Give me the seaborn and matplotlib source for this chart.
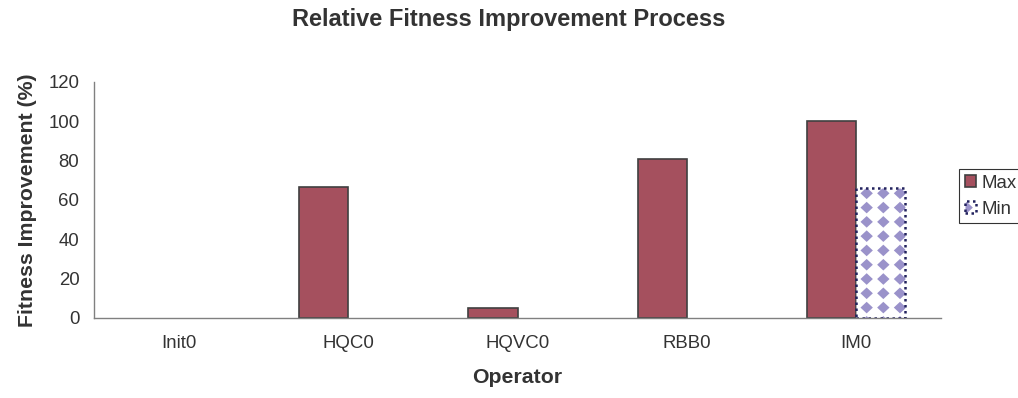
import numpy as np
import pandas as pd
import matplotlib
matplotlib.use("Agg")
import matplotlib.pyplot as plt
import matplotlib.hatch as mhatch
from matplotlib.path import Path
from matplotlib.patches import Patch
from matplotlib.colors import to_rgba
import seaborn as sns

# ---- data ----
operators = ["Init0", "HQC0", "HQVC0", "RBB0", "IM0"]
max_values = [0, 66.5, 5, 81, 100]
min_values = [0, 0, 0, 0, 66]
series = ["Max", "Min"]
yticks = [0, 20, 40, 60, 80, 100, 120]

MAX_COLOR = "#A5505E"
MAX_EDGE = "#404040"
MIN_DOT = "#9A92CA"
MIN_EDGE = "#23235E"
TEXT = "#333333"


# ---- custom aligned-diamond hatch (replaces the '*' star hatch) ----
class Diamonds(mhatch.HatchPatternBase):
    NX, NY = 6, 7

    def __init__(self, hatch, density):
        self.on = hatch.count('*') > 0
        cnt = (self.NX + 2) * (self.NY + 2)
        self.num_vertices = cnt * 5 if self.on else 0

    def set_vertices_and_codes(self, vertices, codes):
        sx, sy = 1.0 / self.NX, 1.0 / self.NY
        hx, hy = 0.062, 0.058
        shape = np.array([[0, hy], [hx, 0], [0, -hy], [-hx, 0], [0, hy]])
        sc = np.array([Path.MOVETO, Path.LINETO, Path.LINETO, Path.LINETO,
                       Path.CLOSEPOLY], dtype=Path.code_type)
        parts = []
        for r in range(-1, self.NY + 1):
            for c in range(-1, self.NX + 1):
                parts.append(shape + [c * sx, r * sy + 0.067])
        np.concatenate(parts, out=vertices)
        codes[:] = np.tile(sc, len(parts))


mhatch._hatch_types = [Diamonds if t is mhatch.Stars else t
                       for t in mhatch._hatch_types]

df = pd.DataFrame({
    "Operator": operators * 2,
    "Series": ["Max"] * len(operators) + ["Min"] * len(operators),
    "Value": max_values + min_values,
})

sns.set_style("white")
plt.rcParams["font.family"] = ["Liberation Sans", "DejaVu Sans"]
plt.rcParams["hatch.linewidth"] = 0.0

fig = plt.figure(figsize=(10.18, 3.98), dpi=100)
ax = fig.add_axes([94 / 1018, 1 - 318 / 398, (941 - 94) / 1018, (318 - 82) / 398])

sns.barplot(data=df, x="Operator", y="Value", hue="Series", order=operators,
            hue_order=series, palette=[MAX_COLOR, "white"], width=0.58,
            gap=0, ax=ax, legend=False, saturation=1)

n = len(operators)
DOTTED = (0, (1.0, 1.4))
for i, p in enumerate(ax.patches):
    if i < n:
        p.set_facecolor(MAX_COLOR)
        p.set_edgecolor(MAX_EDGE)
        p.set_linewidth(1.2)
    else:
        p.set_facecolor("white")
        p.set_hatch("*")
        p.set_edgecolor(MIN_EDGE)
        p._hatch_color = to_rgba(MIN_DOT)
        p.set_linestyle(DOTTED)
        p.set_linewidth(1.8)
        p.set_zorder(p.get_zorder() + 0.1)
    if p.get_height() == 0:
        p.set_visible(False)

ax.set_ylim(0, 120)
ax.set_yticks(yticks)
ax.set_xlim(-0.5, n - 0.5)
ax.set_xticks(range(n))
ax.set_xticklabels(operators)
ax.set_xticks(np.arange(-0.5, n, 1.0), minor=True)
ax.tick_params(axis="x", which="major", length=0, pad=12.5, labelsize=13.4,
               labelcolor=TEXT)
ax.tick_params(axis="x", which="minor", length=5, width=1, color="#808080",
               direction="out")
ax.tick_params(axis="y", length=5, width=1, color="#808080", direction="out",
               labelsize=13.4, labelcolor=TEXT, pad=5.5)

for s in ["top", "right"]:
    ax.spines[s].set_visible(False)
for s in ["left", "bottom"]:
    ax.spines[s].set_color("#808080")
    ax.spines[s].set_linewidth(1.0)

ax.set_xlabel("Operator", fontsize=15.3, fontweight="bold", color=TEXT,
              labelpad=11.5)
ax.set_ylabel("Fitness Improvement (%)", fontsize=15.3, fontweight="bold",
              color=TEXT, labelpad=8)
fig.suptitle("Relative Fitness Improvement Process", x=0.4995, y=0.981,
             fontsize=17, fontweight="bold", color=TEXT, va="top")

h_max = Patch(facecolor=MAX_COLOR, edgecolor=MAX_EDGE, linewidth=1.2)
h_min = Patch(facecolor="white", edgecolor=MIN_EDGE, hatch="*",
              linestyle=DOTTED, linewidth=1.8)
h_min._hatch_color = to_rgba(MIN_DOT)
leg = fig.legend([h_max, h_min], series, loc="upper left",
                 bbox_to_anchor=(959.3 / 1018, 1 - 169 / 398),
                 bbox_transform=fig.transFigure, borderaxespad=0,
                 frameon=True, fancybox=False, fontsize=13.4,
                 handlelength=0.59, handleheight=0.59, handletextpad=0.3,
                 borderpad=0.3, labelspacing=0.5)
leg.get_frame().set_edgecolor("#000000")
leg.get_frame().set_linewidth(0.8)
for t in leg.get_texts():
    t.set_color(TEXT)

fig.savefig("out.png", dpi=100)
